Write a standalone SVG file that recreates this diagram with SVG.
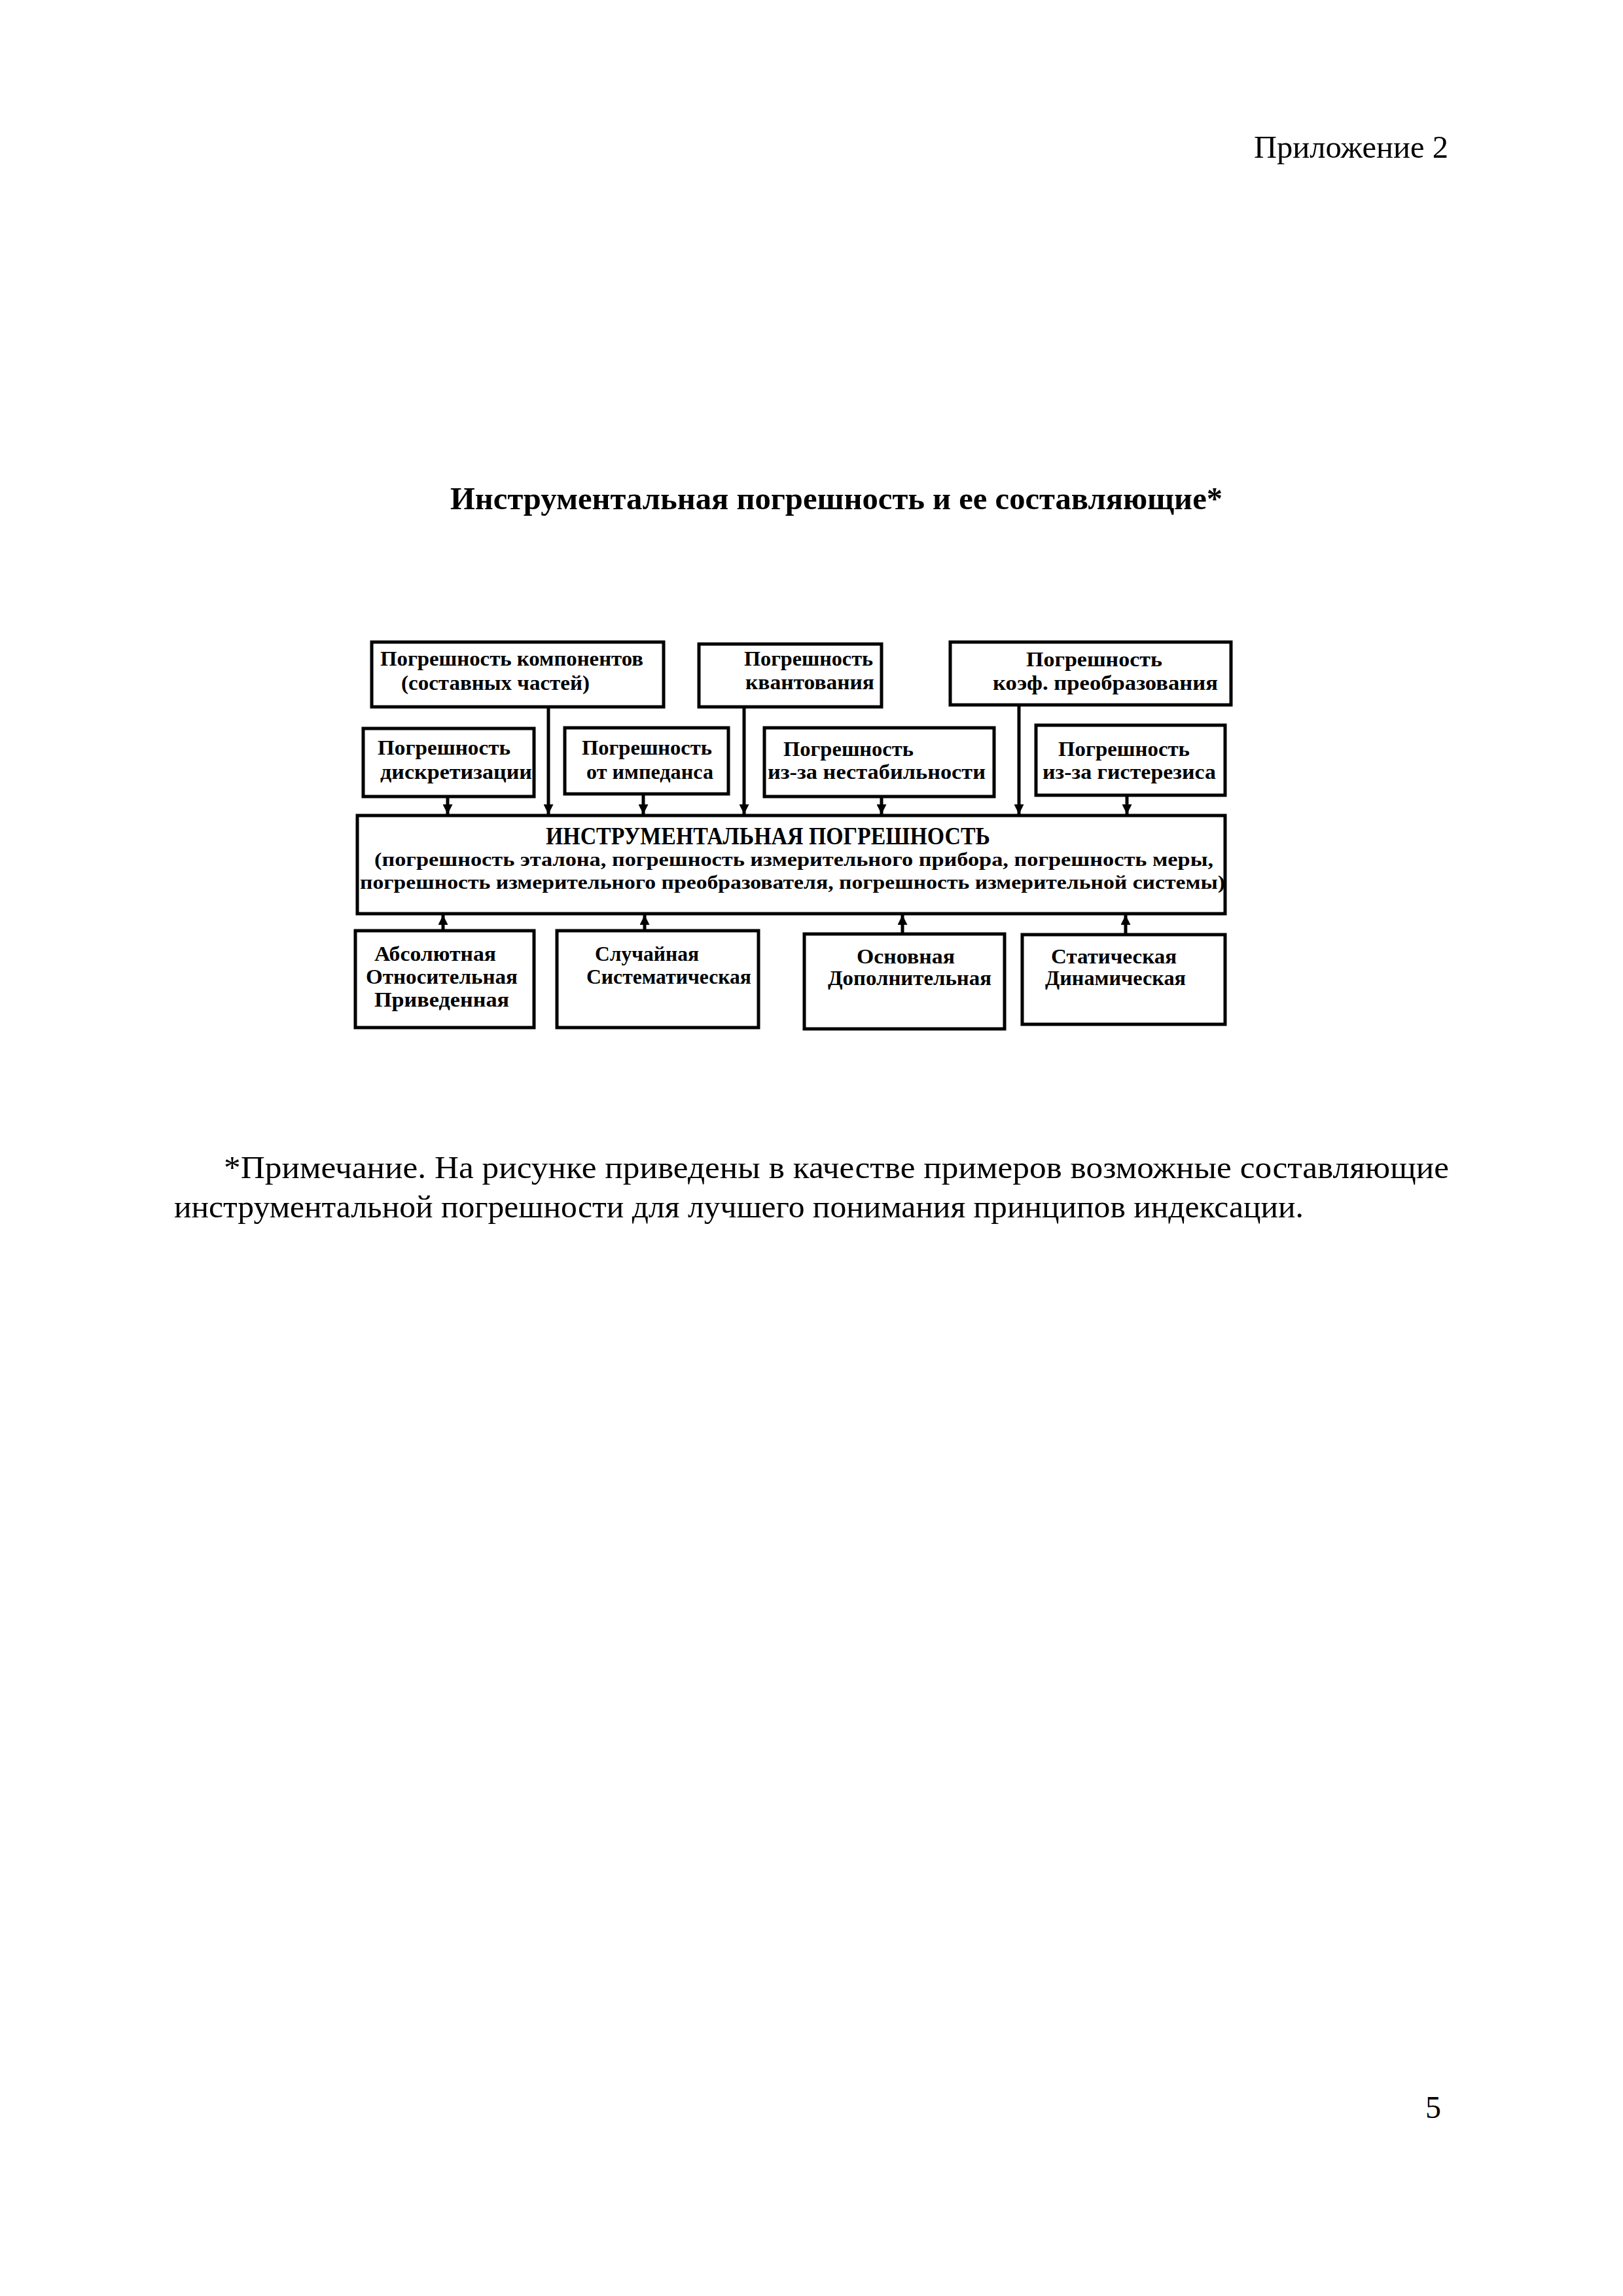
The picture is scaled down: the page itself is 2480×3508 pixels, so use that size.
<svg xmlns="http://www.w3.org/2000/svg" width="2480" height="3508" viewBox="0 0 2480 3508">
<style>
.page{font-family:"Liberation Serif","Times New Roman",serif;fill:#000}
.b{font-family:"Liberation Serif","Times New Roman",serif;font-weight:bold;fill:#000}
.box{fill:#fff;stroke:#000;stroke-width:5}
.con{stroke:#000;stroke-width:5;fill:none}
.t{font-size:32px}
.m1{font-size:38px}
.m2{font-size:30px}
</style>
<defs>
<marker id="ah" viewBox="0 0 10 10" refX="10" refY="5" markerWidth="3" markerHeight="3" orient="auto" markerUnits="strokeWidth">
<path d="M0,0 L10,5 L0,10 z" fill="#000"/>
</marker>
</defs>
<rect x="0" y="0" width="2480" height="3508" fill="#fff"/>

<text class="page" x="1916" y="241" font-size="48" textLength="297" lengthAdjust="spacingAndGlyphs">Приложение 2</text>
<text class="b" x="688" y="778" font-size="48" textLength="1180" lengthAdjust="spacingAndGlyphs">Инструментальная погрешность и ее составляющие*</text>

<g id="connectors">
<line class="con" x1="838" y1="1080" x2="838" y2="1244" marker-end="url(#ah)"/>
<line class="con" x1="1137" y1="1080" x2="1137" y2="1244" marker-end="url(#ah)"/>
<line class="con" x1="1557" y1="1077" x2="1557" y2="1244" marker-end="url(#ah)"/>
<line class="con" x1="684" y1="1217" x2="684" y2="1244" marker-end="url(#ah)"/>
<line class="con" x1="983" y1="1213" x2="983" y2="1244" marker-end="url(#ah)"/>
<line class="con" x1="1347" y1="1217" x2="1347" y2="1244" marker-end="url(#ah)"/>
<line class="con" x1="1722" y1="1215" x2="1722" y2="1244" marker-end="url(#ah)"/>
<line class="con" x1="677" y1="1422" x2="677" y2="1398" marker-end="url(#ah)"/>
<line class="con" x1="985" y1="1422" x2="985" y2="1398" marker-end="url(#ah)"/>
<line class="con" x1="1379" y1="1427" x2="1379" y2="1398" marker-end="url(#ah)"/>
<line class="con" x1="1720" y1="1428" x2="1720" y2="1398" marker-end="url(#ah)"/>
</g>

<g id="n-komponent">
<rect class="box" x="568" y="981" width="446" height="99"/>
<text class="b t" x="581" y="1017" textLength="402" lengthAdjust="spacingAndGlyphs">Погрешность компонентов</text>
<text class="b t" x="613" y="1054" textLength="288" lengthAdjust="spacingAndGlyphs">(составных частей)</text>
</g>
<g id="n-kvant">
<rect class="box" x="1068" y="984" width="279" height="96"/>
<text class="b t" x="1137" y="1017" textLength="197" lengthAdjust="spacingAndGlyphs">Погрешность</text>
<text class="b t" x="1139" y="1053" textLength="197" lengthAdjust="spacingAndGlyphs">квантования</text>
</g>
<g id="n-koef">
<rect class="box" x="1452" y="981" width="429" height="96"/>
<text class="b t" x="1568" y="1018" textLength="208" lengthAdjust="spacingAndGlyphs">Погрешность</text>
<text class="b t" x="1517" y="1054" textLength="344" lengthAdjust="spacingAndGlyphs">коэф. преобразования</text>
</g>

<g id="n-diskr">
<rect class="box" x="555" y="1113" width="261" height="104"/>
<text class="b t" x="577" y="1153" textLength="203" lengthAdjust="spacingAndGlyphs">Погрешность</text>
<text class="b t" x="581" y="1190" textLength="232" lengthAdjust="spacingAndGlyphs">дискретизации</text>
</g>
<g id="n-imped">
<rect class="box" x="863" y="1112" width="250" height="101"/>
<text class="b t" x="889" y="1153" textLength="199" lengthAdjust="spacingAndGlyphs">Погрешность</text>
<text class="b t" x="896" y="1190" textLength="194" lengthAdjust="spacingAndGlyphs">от импеданса</text>
</g>
<g id="n-nestab">
<rect class="box" x="1168" y="1112" width="351" height="105"/>
<text class="b t" x="1197" y="1155" textLength="199" lengthAdjust="spacingAndGlyphs">Погрешность</text>
<text class="b t" x="1173" y="1190" textLength="333" lengthAdjust="spacingAndGlyphs">из-за нестабильности</text>
</g>
<g id="n-gister">
<rect class="box" x="1583" y="1108" width="289" height="107"/>
<text class="b t" x="1617" y="1155" textLength="201" lengthAdjust="spacingAndGlyphs">Погрешность</text>
<text class="b t" x="1593" y="1190" textLength="265" lengthAdjust="spacingAndGlyphs">из-за гистерезиса</text>
</g>

<g id="n-main">
<rect class="box" x="546" y="1246" width="1326" height="150"/>
<text class="b m1" x="834" y="1290" textLength="679" lengthAdjust="spacingAndGlyphs">ИНСТРУМЕНТАЛЬНАЯ ПОГРЕШНОСТЬ</text>
<text class="b m2" x="572" y="1323" textLength="1282" lengthAdjust="spacingAndGlyphs">(погрешность эталона, погрешность измерительного прибора, погрешность меры,</text>
<text class="b m2" x="550" y="1358" textLength="1322" lengthAdjust="spacingAndGlyphs">погрешность измерительного преобразователя, погрешность измерительной системы)</text>
</g>

<g id="n-abs">
<rect class="box" x="543" y="1422" width="273" height="148"/>
<text class="b t" x="572" y="1468" textLength="186" lengthAdjust="spacingAndGlyphs">Абсолютная</text>
<text class="b t" x="559" y="1503" textLength="232" lengthAdjust="spacingAndGlyphs">Относительная</text>
<text class="b t" x="572" y="1538" textLength="206" lengthAdjust="spacingAndGlyphs">Приведенная</text>
</g>
<g id="n-sluch">
<rect class="box" x="851" y="1422" width="308" height="148"/>
<text class="b t" x="909" y="1468" textLength="159" lengthAdjust="spacingAndGlyphs">Случайная</text>
<text class="b t" x="896" y="1503" textLength="252" lengthAdjust="spacingAndGlyphs">Систематическая</text>
</g>
<g id="n-osn">
<rect class="box" x="1229" y="1427" width="306" height="145"/>
<text class="b t" x="1309" y="1472" textLength="150" lengthAdjust="spacingAndGlyphs">Основная</text>
<text class="b t" x="1265" y="1505" textLength="250" lengthAdjust="spacingAndGlyphs">Дополнительная</text>
</g>
<g id="n-stat">
<rect class="box" x="1562" y="1428" width="310" height="137"/>
<text class="b t" x="1606" y="1472" textLength="192" lengthAdjust="spacingAndGlyphs">Статическая</text>
<text class="b t" x="1597" y="1505" textLength="215" lengthAdjust="spacingAndGlyphs">Динамическая</text>
</g>

<text class="page" x="342" y="1800" font-size="48" textLength="1872" lengthAdjust="spacingAndGlyphs">*Примечание. На рисунке приведены в качестве примеров возможные составляющие</text>
<text class="page" x="266" y="1860" font-size="48" textLength="1726" lengthAdjust="spacingAndGlyphs">инструментальной погрешности для лучшего понимания принципов индексации.</text>

<text class="page" x="2178" y="3236" font-size="48">5</text>
</svg>
